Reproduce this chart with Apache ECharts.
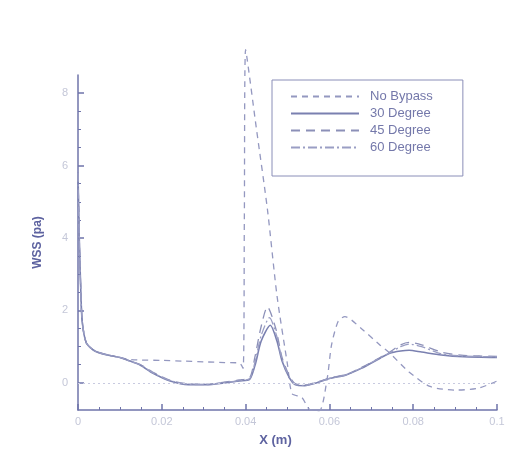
<!DOCTYPE html>
<html><head><meta charset="utf-8">
<script src="https://cdn.jsdelivr.net/npm/echarts@6/dist/echarts.min.js"></script>
<style>html,body{margin:0;padding:0;background:#fff}#c{width:510px;height:452px}</style>
</head><body><div id="c"></div>
<script>
const seriesNames = ['No Bypass', '30 Degree', '45 Degree', '60 Degree'];
const xTicks = [0, 0.02, 0.04, 0.06, 0.08, 0.1];
const yTicks = [0, 2, 4, 6, 8];

const noBypass = [[0,5.8],[0.0003,4.0],[0.0006,2.8],[0.001,1.7],[0.002,1.1],[0.004,0.88],[0.007,0.77],[0.01,0.7],[0.012,0.65],[0.015,0.63],[0.02,0.62],[0.025,0.6],[0.03,0.58],[0.035,0.56],[0.0385,0.55],[0.0394,0.4],[0.0397,4.5],[0.0400,9.2],[0.0426,7.0],[0.0452,4.8],[0.0475,2.4],[0.0500,0.5],[0.0511,-0.3],[0.0534,-0.4],[0.0553,-0.74],[0.0576,-0.77],[0.0595,0.14],[0.0605,1.04],[0.0621,1.7],[0.0637,1.83],[0.0676,1.5],[0.0721,1.04],[0.0744,0.82],[0.079,0.3],[0.084,-0.1],[0.09,-0.2],[0.0955,-0.15],[0.1,0.05]];
const deg30 = [[0,5.8],[0.0003,4.0],[0.0006,2.8],[0.001,1.7],[0.002,1.1],[0.004,0.88],[0.007,0.77],[0.01,0.7],[0.012,0.62],[0.015,0.48],[0.0178,0.27],[0.022,0.05],[0.0264,-0.05],[0.0308,-0.05],[0.0349,0.0],[0.0385,0.05],[0.041,0.1],[0.0424,0.55],[0.0437,1.15],[0.0459,1.59],[0.0475,1.15],[0.0487,0.6],[0.0504,0.15],[0.0518,-0.05],[0.0541,-0.08],[0.057,0.0],[0.06,0.12],[0.064,0.22],[0.0676,0.4],[0.0721,0.68],[0.0744,0.82],[0.077,0.88],[0.079,0.9],[0.082,0.85],[0.0867,0.77],[0.092,0.72],[0.1,0.7]];
const deg45 = [[0,5.8],[0.0003,4.0],[0.0006,2.8],[0.001,1.7],[0.002,1.1],[0.004,0.88],[0.007,0.77],[0.01,0.7],[0.012,0.62],[0.015,0.5],[0.0178,0.3],[0.022,0.07],[0.0264,-0.03],[0.0308,-0.04],[0.0349,0.02],[0.0385,0.08],[0.041,0.15],[0.0422,0.7],[0.0436,1.5],[0.0452,2.1],[0.0472,1.5],[0.0487,0.7],[0.0504,0.2],[0.0518,-0.02],[0.0541,-0.06],[0.057,0.02],[0.06,0.13],[0.064,0.23],[0.0676,0.42],[0.0721,0.7],[0.0744,0.85],[0.077,1.05],[0.079,1.12],[0.082,1.05],[0.0867,0.85],[0.092,0.76],[0.1,0.73]];
const deg60 = [[0,5.8],[0.0003,4.0],[0.0006,2.8],[0.001,1.7],[0.002,1.1],[0.004,0.88],[0.007,0.77],[0.01,0.7],[0.012,0.62],[0.015,0.49],[0.0178,0.28],[0.022,0.06],[0.0264,-0.04],[0.0308,-0.05],[0.0349,0.01],[0.0385,0.06],[0.041,0.12],[0.0423,0.6],[0.0437,1.3],[0.0457,1.8],[0.0474,1.3],[0.0487,0.65],[0.0504,0.17],[0.0518,-0.04],[0.0541,-0.07],[0.057,0.01],[0.06,0.12],[0.064,0.22],[0.0676,0.41],[0.0721,0.69],[0.0744,0.83],[0.077,1.0],[0.079,1.07],[0.082,1.0],[0.0867,0.8],[0.092,0.74],[0.1,0.72]];

const allData = [noBypass, deg30, deg45, deg60];
const dashes = [[6,5], 'solid', [9,6], [9,3,2,3]];
const colors = ['#9498c0', '#7a80b0', '#8c90b8', '#9a9ec4'];
const widths = [1.3, 1.6, 1.3, 1.3];

const chart = echarts.init(document.getElementById('c'));
const axisColor = '#6f74aa';
const labelColor = '#c4c7d8';
chart.setOption({
  animation: false,
  backgroundColor: '#ffffff',
  grid: {left: 78, right: 13, top: 75, bottom: 40},
  legend: {
    orient: 'vertical', left: 272, top: 80,
    padding: [10, 30, 22, 18], itemGap: 4,
    itemWidth: 68, itemHeight: 14,
    borderColor: '#8a8eb8', borderWidth: 1,
    itemStyle: {opacity: 0},
    textStyle: {color: '#7478aa', fontSize: 13, fontFamily: 'Liberation Sans, Arial', padding: [0,0,0,6]},
    data: seriesNames
  },
  xAxis: {
    type: 'value', min: 0, max: 0.1, interval: 0.02,
    name: 'X (m)', nameLocation: 'middle', nameGap: 24,
    nameTextStyle: {color: '#5e63a0', fontSize: 13, fontWeight: 'bold', fontFamily: 'Liberation Sans, Arial', padding: [0, 24, 0, 0]},
    axisLine: {onZero: false, lineStyle: {color: axisColor, width: 1.5}},
    axisTick: {inside: true, length: 6, lineStyle: {color: axisColor, width: 1.5}},
    minorTick: {show: true, splitNumber: 4, length: 3, lineStyle: {color: axisColor}},
    axisLabel: {color: labelColor, fontSize: 11, margin: 6, formatter: v => xTicks.includes(Math.round(v*100)/100) ? String(Math.round(v*100)/100) : ''},
    splitLine: {show: false}
  },
  yAxis: [{
    type: 'value', min: -0.75, max: 8.5,
    name: 'WSS (pa)', nameLocation: 'middle', nameGap: 34,
    nameTextStyle: {color: '#5e63a0', fontSize: 12, fontWeight: 'bold', fontFamily: 'Liberation Sans, Arial'},
    axisLine: {lineStyle: {color: axisColor, width: 1.5}},
    axisTick: {inside: true, length: 6, customValues: yTicks, lineStyle: {color: axisColor, width: 1.5}},
    axisLabel: {color: labelColor, fontSize: 11, margin: 10, customValues: yTicks},
    splitLine: {show: false}
  }, {
    type: 'value', min: -0.75, max: 8.5, position: 'left',
    axisLine: {show: false},
    axisTick: {inside: true, length: 3, customValues: [0.5,1,1.5,2.5,3,3.5,4.5,5,5.5,6.5,7,7.5], lineStyle: {color: axisColor}},
    axisLabel: {show: false}, splitLine: {show: false}
  }],
  series: allData.map((d, i) => ({
    name: seriesNames[i], type: 'line', data: d, symbol: 'none', smooth: 0.25, clip: false,
    lineStyle: {color: colors[i], width: widths[i], type: dashes[i]},
    itemStyle: {color: colors[i]},
    markLine: i === 0 ? {silent: true, symbol: 'none', label: {show: false},
      lineStyle: {color: '#c8cae0', type: [2,3], width: 1}, data: [{yAxis: 0}]} : undefined
  }))
});
</script></body></html>
